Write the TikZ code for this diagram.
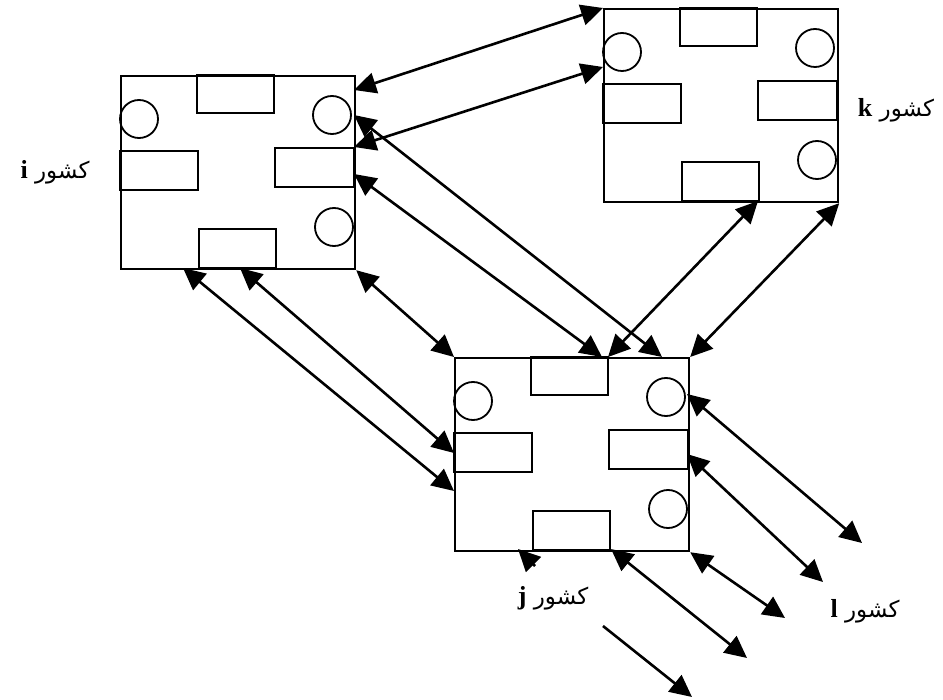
\documentclass[tikz,border=0pt]{standalone}
\usepackage{fontspec}
\newfontfamily\arabicfont[Script=Arabic]{DejaVu Sans}
\newfontfamily\latinfont{Liberation Serif}
\TeXXeTstate=1
\usetikzlibrary{arrows.meta}

\newcommand\lettr[1]{{\latinfont\bfseries\fontsize{13}{13}\selectfont #1}}

\tikzset{
  countrybox/.style={draw, line width=1.1pt, minimum width=117pt, minimum height=96.5pt, inner sep=0pt, anchor=north west},
  part/.style={draw, line width=.9pt},
  trade/.style={line width=1.3pt, {Triangle[length=11pt,width=10.5pt]}-{Triangle[length=11pt,width=10.5pt]}},
  oneway/.style={line width=1.3pt, -{Triangle[length=11pt,width=10.5pt]}},
  countryname/.style={font=\fontsize{11.5}{13}\selectfont, inner sep=1pt}
}

\begin{document}
\begin{tikzpicture}[x=.5pt, y=-.5pt]
\useasboundingbox (0,0) rectangle (943,700);
% the three countries
\foreach \n/\x/\y in {i/120/75, k/603/8, j/454/357}{
  \node[countrybox] (\n) at (\x,\y) {};
  \begin{scope}[shift={(\x,\y)}]
    \draw[part] (77,0) rectangle (154,38);
    \draw[part] (0,76) rectangle (78,115);
    \draw[part] (155,73) rectangle (234,112);
    \draw[part] (79,193) rectangle (156,154);
    \draw[part] (19,44) circle[radius=9.5pt];
    \draw[part] (212,40) circle[radius=9.5pt];
    \draw[part] (214,152) circle[radius=9.5pt];
  \end{scope}
}
% ports
\coordinate (iR1) at (354,90);
\coordinate (iR2) at (354,115);
\coordinate (iR3) at (354,147);
\coordinate (iR4) at (354,174);
\coordinate (iB1) at (183,268);
\coordinate (iB2) at (240,268);
\coordinate (kL) at (603,67);
\coordinate (kB) at (758,201);
\coordinate (jT1) at (602,357);
\coordinate (jT2) at (608,357);
\coordinate (jT3) at (662,357);
\coordinate (jL1) at (454,453);
\coordinate (jL2) at (454,491);
\coordinate (jR1) at (687,394);
\coordinate (jR2) at (687,454);
\coordinate (jB1) at (611,549);
\coordinate (jB2) at (518,549);
% free ends towards l
\coordinate (l1) at (862,543);
\coordinate (l2) at (823,582);
\coordinate (l3) at (785,618);
\coordinate (l4) at (747,658);
\coordinate (l5) at (692,697);
\coordinate (g1) at (535,566);
\coordinate (g2) at (603,626);
% trade links
\draw[trade] (iR1) -- (k.north west);
\draw[trade] (iR3) -- (kL);
\draw[trade] (iR2) -- (jT3);
\draw[trade] (iR4) -- (jT1);
\draw[trade] (kB) -- (jT2);
\draw[trade] (k.south east) -- (j.north east);
\draw[trade] (i.south east) -- (j.north west);
\draw[trade] (iB2) -- (jL1);
\draw[trade] (iB1) -- (jL2);
\draw[trade] (jR1) -- (l1);
\draw[trade] (jR2) -- (l2);
\draw[trade] (j.south east) -- (l3);
\draw[trade] (jB1) -- (l4);
\draw[oneway] (g1) -- (jB2);
\draw[oneway] (g2) -- (l5);
% names
\node[countryname] (ni) at (55,172) {\arabicfont\beginR کشور \lettr{i}\endR};
\node[countryname] (nk) at (896,110) {\arabicfont\beginR کشور \lettr{k}\endR};
\node[countryname] (nj) at (553,598) {\arabicfont\beginR کشور \lettr{j}\endR};
\node[countryname] (nl) at (865,611) {\arabicfont\beginR کشور \lettr{l}\endR};
\end{tikzpicture}
\end{document}
